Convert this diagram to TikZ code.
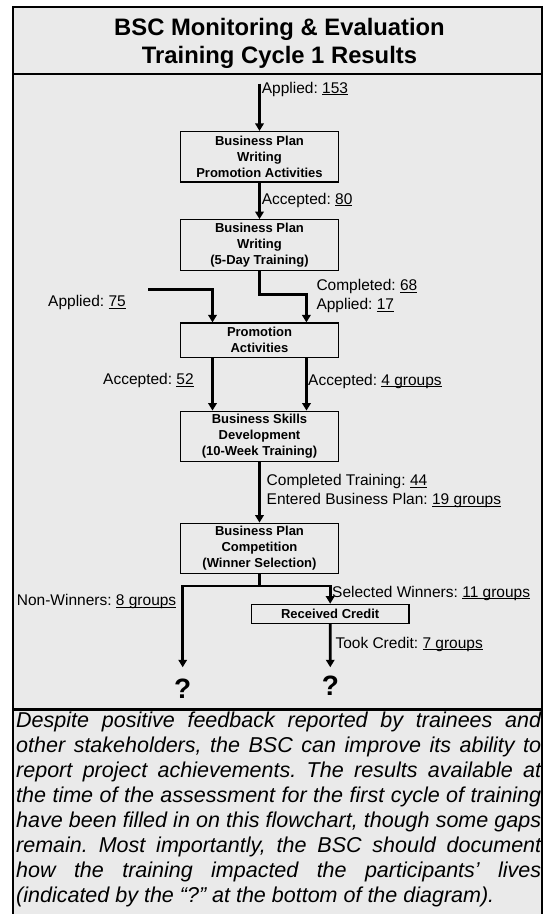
\documentclass[tikz,border=0pt]{standalone}
\usepackage{fontspec}
\setmainfont{Liberation Sans}
\usetikzlibrary{positioning,arrows.meta}
\definecolor{panel}{RGB}{234,234,234}
\tolerance=9999
\hyphenpenalty=10000
\frenchspacing
% underlined figure, rule kept close to the baseline
\newcommand*{\uln}[1]{\setbox0\hbox{#1}\rlap{\rule[-2pt]{\wd0}{1pt}}\box0}

\begin{document}
\begin{tikzpicture}[x=1pt,y=-1pt,
    stage/.style={draw, line width=1.2pt, fill=panel, minimum width=157.6pt,
      inner xsep=0pt, inner ysep=0pt, align=center,
      font=\fontsize{13}{16}\selectfont\bfseries},
    tall/.style={minimum height=50.4pt},
    mid/.style={minimum height=34.3pt},
    flat/.style={minimum height=19pt},
    count/.style={anchor=base west, inner sep=0pt, font=\fontsize{15.5}{19}\selectfont},
    unknown/.style={anchor=base, inner sep=0pt, font=\fontsize{28}{30}\selectfont\bfseries},
    flow/.style={line width=2.6pt, -{Triangle[length=7.5pt,width=8.5pt]}}]
    \useasboundingbox (0,0) rectangle (544,914);

    % frame
    \fill[panel] (13,7) rectangle (542,920);
    \draw[line width=1.5pt] (13,920) -- (13,7) -- (542,7) -- (542,920);
    \draw[line width=2.6pt] (13,74) -- (542,74);
    \draw[line width=2.6pt] (13,709.5) -- (542,709.5);
    \node[inner sep=0pt, align=center, font=\fontsize{23.8}{28}\selectfont\bfseries]
      (title) at (279.5,43) {BSC Monitoring \& Evaluation\\Training Cycle 1 Results};

    % stages
    \node[stage,tall] (plan) at (259.5,156.7) {Business Plan\\Writing\\Promotion Activities};
    \node[stage,tall,below=36.6pt of plan] (write) {Business Plan\\Writing\\(5-Day Training)};
    \node[stage,mid,below=51.7pt of write] (promo) {Promotion\\Activities};
    \node[stage,tall,below=52.7pt of promo] (skills) {Business Skills\\Development\\(10-Week Training)};
    \node[stage,tall,below=60.4pt of skills] (contest) {Business Plan\\Competition\\(Winner Selection)};
    \node[stage,flat] (credit) at (330.2,613.8) {Received Credit};
    \node[unknown] (lost) at (182.7,698) {?};
    \node[unknown] (gain) at (330.3,695.5) {?};

    \coordinate (src1) at (259.5,83.5);
    \coordinate (src2) at (148,289.3);
    \coordinate (bend) at (306.4,294.3);
    \coordinate (fork) at (259.5,586);

    % flows
    \draw[flow] (src1) -- (plan);
    \draw[flow] (plan) -- (write);
    \draw[flow] (write.south) |- (bend) -- (bend |- promo.north);
    \draw[flow] (src2) -| ([xshift=-47pt]promo.north);
    \draw[flow] ([xshift=-47pt]promo.south) -- ([xshift=-47pt]skills.north);
    \draw[flow] ([xshift=47pt]promo.south) -- ([xshift=47pt]skills.north);
    \draw[flow] (skills) -- (contest);
    \draw[flow, shorten >=11pt] (contest.south) -- (fork) -| (lost);
    \draw[flow] (fork) -| (credit);
    \draw[flow, shorten >=8.5pt] (credit) -- (gain);

    % counts
    \node[count] (n153) at (261.7,93.3) {Applied: \uln{153}};
    \node[count] (n80) at (261.7,204) {Accepted: \uln{80}};
    \node[count] (n68) at (316.3,290.5) {Completed: \uln{68}};
    \node[count] (n17) at (316.3,309.5) {Applied: \uln{17}};
    \node[count] (n75) at (48,306.5) {Applied: \uln{75}};
    \node[count] (n52) at (103,384.8) {Accepted: \uln{52}};
    \node[count] (n4) at (308,385.3) {Accepted: \uln{4 groups}};
    \node[count] (n44) at (266.5,485.5) {Completed Training: \uln{44}};
    \node[count] (n19) at (266.5,504.5) {Entered Business Plan: \uln{19 groups}};
    \node[count] (n8) at (16.7,605.5) {Non-Winners: \uln{8 groups}};
    \node[count] (n11) at (332,597.2) {Selected Winners: \uln{11 groups}};
    \node[count] (n7) at (335.3,648.2) {Took Credit: \uln{7 groups}};

    % remark
    \node[anchor=north west, inner sep=0pt, text width=525pt, align=justify,
      font=\fontsize{21.5}{25}\selectfont\itshape] (note) at (16,711.3)
      {Despite positive feedback reported by trainees and\linebreak
       other stakeholders, the BSC can improve its ability to\linebreak
       report project achievements. The results available at\linebreak
       the time of the assessment for the first cycle of training\linebreak
       have been filled in on this flowchart, though some gaps\linebreak
       remain. Most importantly, the BSC should document\linebreak
       how the training impacted the participants’ lives\linebreak
       (indicated by the “?” at the bottom of the diagram).};
\end{tikzpicture}
\end{document}
